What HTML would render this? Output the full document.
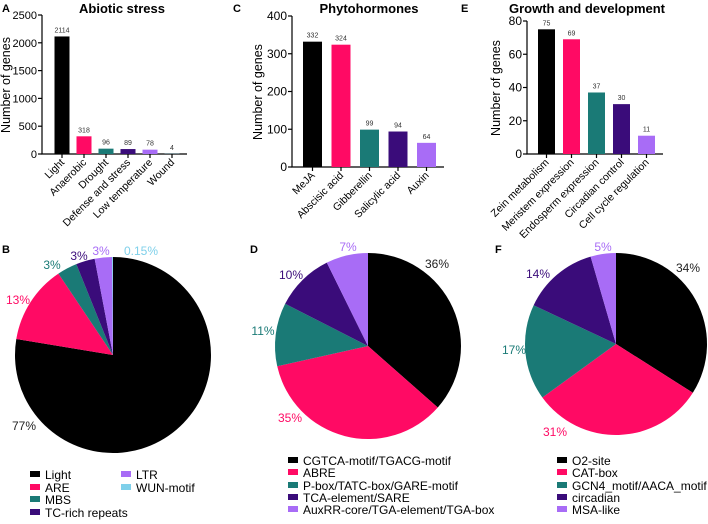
<!DOCTYPE html>
<html><head><meta charset="utf-8">
<style>
html,body{margin:0;padding:0;background:#fff;}
svg{display:block;font-family:"Liberation Sans",Arial,sans-serif;}
</style></head>
<body>
<svg id="fig" width="708" height="524" viewBox="0 0 708 524" xmlns="http://www.w3.org/2000/svg"></svg>
<script>
// ---- data ----
const catA = ["Light","Anaerobic","Drought","Defense and stress","Low temperature","Wound"];
const valA = [2114,318,96,89,78,4];
const ticksA = [0,500,1000,1500,2000,2500];
const catC = ["MeJA","Abscisic acid","Gibberellin","Salicylic acid","Auxin"];
const valC = [332,324,99,94,64];
const ticksC = [0,100,200,300,400];
const catE = ["Zein metabolism","Meristem expression","Endosperm expression","Circadian control","Cell cycle regulation"];
const valE = [75,69,37,30,11];
const ticksE = [0,20,40,60,80];
const pieBLabels = ["Light","ARE","MBS","TC-rich repeats","LTR","WUN-motif"];
const pieBValues = [77.6,13,3.3,3.1,2.85,0.15];
const pieBText = ["77%","13%","3%","3%","3%","0.15%"];
const pieDLabels = ["CGTCA-motif/TGACG-motif","ABRE","P-box/TATC-box/GARE-motif","TCA-element/SARE","AuxRR-core/TGA-element/TGA-box"];
const pieDValues = [36.5,35,11,10.2,7.3];
const pieDText = ["36%","35%","11%","10%","7%"];
const pieFLabels = ["O2-site","CAT-box","GCN4_motif/AACA_motif","circadian","MSA-like"];
const pieFValues = [34,31,17,13.5,4.5];
const pieFText = ["34%","31%","17%","14%","5%"];
const colors = ["#000000","#ff0a64","#1a7a76","#3a0c7a","#a86cf6","#7fd0ea"];

const NS="http://www.w3.org/2000/svg";
const svg=document.getElementById('fig');
function el(tag,attrs,parent,text){const e=document.createElementNS(NS,tag);for(const k in attrs)e.setAttribute(k,attrs[k]);if(text!==undefined)e.textContent=text;(parent||svg).appendChild(e);return e;}

function barChart(cfg){
  const g=el('g',{});
  
  
  const y=v=>cfg.y0-(v/cfg.max)*(cfg.y0-cfg.yTop);
  const x=i=>cfg.x0+i*cfg.pitch;
  const ax=el('path',{d:`M${cfg.axX} ${cfg.yTop} V${cfg.y0} H${cfg.axEnd}`,stroke:'#000','stroke-width':1.2,fill:'none'},g);
  
  
  cfg.ticks.forEach(t=>{
    el('line',{x1:cfg.axX-4,x2:cfg.axX,y1:y(t),y2:y(t),stroke:'#000','stroke-width':1.2},g);
    const tl=el('text',{x:cfg.axX-5,y:y(t)+4,'font-size':cfg.tickFs||12,'text-anchor':'end'},g,t);
    
    
  });
  cfg.cats.forEach((c,i)=>{
    const v=cfg.vals[i];
    const b=el('rect',{x:x(i)-cfg.bw/2,y:y(v),width:cfg.bw,height:cfg.y0-y(v),fill:colors[i]},g);
    
    
    el('line',{x1:x(i),x2:x(i),y1:cfg.y0,y2:cfg.y0+4,stroke:'#000','stroke-width':1.2},g);
    const vl=el('text',{x:x(i),y:y(v)-4,'font-size':7,'text-anchor':'middle',fill:'#333'},g,v);
    
    
    const xl=el('text',{x:x(i)+3,y:cfg.y0+9,'font-size':10.5,'text-anchor':'end',transform:`rotate(-45 ${x(i)+3} ${cfg.y0+9})`},g,c);
    
    
  });
  const yt=el('text',{x:cfg.ylabX,y:cfg.ylabY,'font-size':12.5,'text-anchor':'middle',transform:`rotate(-90 ${cfg.ylabX} ${cfg.ylabY})`},g,'Number of genes');
  
  
  const ti=el('text',{x:cfg.titleX,y:13,'font-size':13,'font-weight':'bold','text-anchor':'middle'},g,cfg.title);
  
  
  const pl=el('text',{x:cfg.letterX,y:12,'font-size':11,'font-weight':'bold'},g,cfg.letter);
  
  
}

barChart({name:'abiotic-stress-chart',cats:catA,vals:valA,ticks:ticksA,max:2500,y0:154,yTop:15,axX:42,axEnd:187,x0:62,pitch:22,bw:15,ylabX:10,ylabY:85,tickFs:11,title:'Abiotic stress',titleX:122,letter:'A',letterX:2});
barChart({name:'phytohormones-chart',cats:catC,vals:valC,ticks:ticksC,max:400,y0:167,yTop:16,axX:292,axEnd:444,x0:312.5,pitch:28.5,bw:19,ylabX:262,ylabY:92,title:'Phytohormones',titleX:369,letter:'C',letterX:233});
barChart({name:'growth-development-chart',cats:catE,vals:valE,ticks:ticksE,max:80,y0:154,yTop:21,axX:527,axEnd:663,x0:546.5,pitch:25,bw:17,ylabX:500,ylabY:88,title:'Growth and development',titleX:587,letter:'E',letterX:461});

function pie(cfg){
  const g=el('g',{});
  
  
  const tot=cfg.vals.reduce((a,b)=>a+b,0);
  let a0=0;
  cfg.vals.forEach((v,i)=>{
    const a1=a0+v/tot*2*Math.PI;
    const p=(a)=>[cfg.cx+cfg.r*Math.sin(a),cfg.cy-cfg.r*Math.cos(a)];
    const [x0,y0]=p(a0),[x1,y1]=p(a1);
    const large=(a1-a0)>Math.PI?1:0;
    const s=el('path',{d:`M${cfg.cx} ${cfg.cy} L${x0} ${y0} A${cfg.r} ${cfg.r} 0 ${large} 1 ${x1} ${y1} Z`,fill:colors[i]},g);
    
    
    const [lx,ly]=cfg.labelPos[i];
    const t=el('text',{x:lx,y:ly,'font-size':12,'text-anchor':'middle',fill:i===0?'#222':colors[i]},g,cfg.text[i]);
    
    
    const [gx,gy]=cfg.legPos[i];
    const sw=el('rect',{x:gx,y:gy-4,width:10,height:6,fill:colors[i]},g);
    
    
    const lt=el('text',{x:gx+15,y:gy+4,'font-size':12},g,cfg.labels[i]);
    
    
    a0=a1;
  });
  const pl=el('text',{x:cfg.letter[1],y:cfg.letter[2],'font-size':11,'font-weight':'bold'},g,cfg.letter[0]);
  
  
}
pie({name:'pie-abiotic',cx:113,cy:355,r:98,vals:pieBValues,labels:pieBLabels,text:pieBText,
  labelPos:[[24,430],[18,304],[52,269],[79,260],[101,255],[141,255]],
  legPos:[[30,475],[30,488],[30,500],[30,513],[121,475],[121,488]],letter:['B',2,253]});
pie({name:'pie-phytohormones',cx:368,cy:346,r:93,vals:pieDValues,labels:pieDLabels,text:pieDText,
  labelPos:[[437,268],[290,422],[263,335],[291,279],[348,251]],
  legPos:[[288,461],[288,473],[288,486],[288,498],[288,510]],letter:['D',250,253]});
pie({name:'pie-growth',cx:616,cy:344,r:91,vals:pieFValues,labels:pieFLabels,text:pieFText,
  labelPos:[[688,272],[555,436],[514,354],[538,278],[603,251]],
  legPos:[[557,461],[557,473],[557,486],[557,498],[557,510]],letter:['F',495,253]});
</script>
</body></html>
